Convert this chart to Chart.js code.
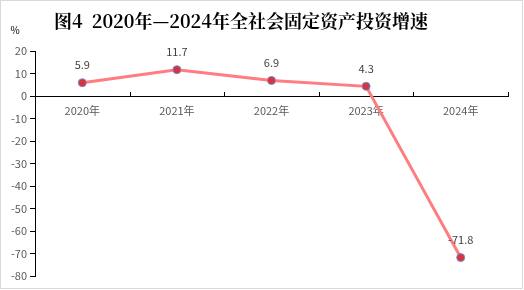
<!doctype html>
<html lang="zh">
<head>
<meta charset="utf-8">
<script src="https://cdn.jsdelivr.net/npm/chart.js@4.4.1/dist/chart.umd.min.js"></script>
<style>
  * { box-sizing: border-box; }
  body { margin: 0; background: #fff; }
  .wrap { position: relative; width: 524px; height: 290px; }
</style>
</head>
<body>
<div class="wrap"><canvas id="chart"></canvas></div>
<script>
const years = ['2020年', '2021年', '2022年', '2023年', '2024年'];
const growth = [5.9, 11.7, 6.9, 4.3, -71.8];
const yMin = -80;
const yMax = 20;
const yStep = 10;
const titleText = '图4  2020年—2024年全社会固定资产投资增速';
const unitText = '%';

const FONT = "'Noto Sans CJK SC', 'Noto Sans', sans-serif";

// title, unit, value labels, upward x ticks and frame
const decor = {
  id: 'decor',
  afterDraw(chart) {
    const ctx = chart.ctx;
    const x = chart.scales.x;
    const y = chart.scales.y;
    ctx.save();

    // x axis ticks pointing up at category boundaries
    const y0 = y.getPixelForValue(0);
    ctx.strokeStyle = '#000';
    ctx.lineWidth = 1;
    const step = x.getPixelForValue(1) - x.getPixelForValue(0);
    for (let i = 0; i <= years.length; i++) {
      const px = Math.round(x.getPixelForValue(0) - step / 2 + i * step) + 0.5;
      ctx.beginPath();
      ctx.moveTo(px, y0);
      ctx.lineTo(px, y0 - 4);
      ctx.stroke();
    }

    // value labels
    ctx.fillStyle = '#404040';
    ctx.font = '11px ' + FONT;
    ctx.textAlign = 'center';
    ctx.textBaseline = 'middle';
    const meta = chart.getDatasetMeta(0);
    meta.data.forEach(function (pt, i) {
      ctx.fillText(String(growth[i]), pt.x, pt.y - 18);
    });

    // title
    ctx.fillStyle = '#000';
    ctx.font = "bold 18px 'Noto Serif CJK SC', " + FONT;
    ctx.textAlign = 'center';
    ctx.fillText(titleText, 241, 21);

    // unit
    ctx.font = '10px ' + FONT;
    ctx.fillStyle = '#000';
    ctx.fillText(unitText, 15, 30);

    // outer frame
    ctx.strokeStyle = '#d9d9d9';
    ctx.strokeRect(0.5, 0.5, 522, 288);
    ctx.restore();
  }
};

new Chart(document.getElementById('chart'), {
  type: 'line',
  data: {
    labels: years,
    datasets: [{
      data: growth,
      borderColor: '#ff7c80',
      borderWidth: 3,
      pointRadius: 4,
      pointBackgroundColor: '#d9323c',
      pointBorderColor: '#6f8fcf',
      pointBorderWidth: 1,
      tension: 0,
    }],
  },
  options: {
    responsive: true,
    maintainAspectRatio: false,
    animation: false,
    layout: { padding: { top: 51, right: 16, bottom: 14, left: 0 } },
    plugins: { legend: { display: false }, tooltip: { enabled: false }, title: { display: false } },
    scales: {
      x: {
        type: 'category',
        offset: true,
        position: { y: 0 },
        border: { display: true, color: '#000', width: 1 },
        grid: { display: false, drawTicks: false },
        ticks: { color: '#595959', font: { size: 11, family: FONT }, padding: 8, maxRotation: 0 },
      },
      y: {
        min: yMin,
        max: yMax,
        ticks: { stepSize: yStep, color: '#595959', font: { size: 11, family: FONT }, padding: 3 },
        border: { display: true, color: '#000', width: 1 },
        grid: { drawOnChartArea: false, tickLength: 5, color: '#000' },
        afterFit(scale) { scale.width = 35; },
      },
    },
  },
  plugins: [decor],
});
</script>
</body>
</html>
